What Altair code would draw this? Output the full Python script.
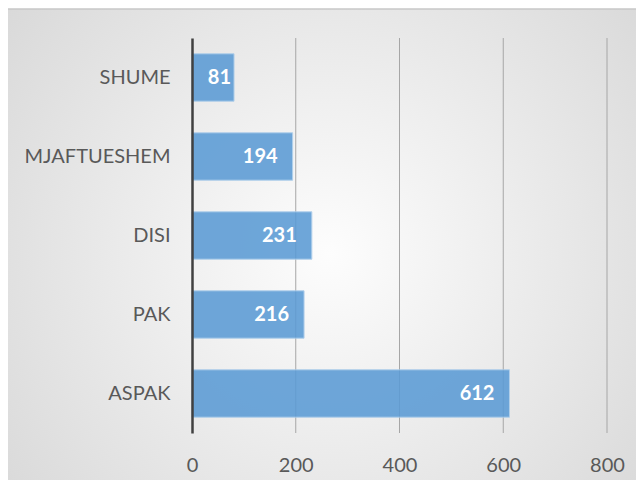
import altair as alt
import pandas as pd

categories = ["SHUME", "MJAFTUESHEM", "DISI", "PAK", "ASPAK"]
values = [81, 194, 231, 216, 612]
tick_values = [0, 200, 400, 600, 800]

df = pd.DataFrame({"cat": categories, "val": values})
grid_df = pd.DataFrame({"t": tick_values[1:]})
bg_df = pd.DataFrame({"a": [0]})

FONT = "Lato"
TXT = "#595959"
xscale = alt.Scale(domain=[0, 800])
x_axis = alt.Axis(values=tick_values, grid=False, ticks=False, domain=False,
                  title=None, labelFontSize=20, labelFont=FONT, labelFlush=False,
                  labelColor=TXT, labelPadding=22, zindex=1)
y_axis = alt.Axis(title=None, ticks=False, labelFontSize=20, labelFont=FONT,
                  labelColor=TXT, labelPadding=22, domainColor="#404040",
                  domainWidth=2.5, zindex=1)
yscale = alt.Scale(paddingInner=0.4, paddingOuter=0.2)

bg = alt.Chart(bg_df).mark_rect(
    fill=alt.Gradient(
        gradient="radial",
        x1=0.5, y1=0.5, r1=0, x2=0.5, y2=0.5, r2=0.75,
        stops=[alt.GradientStop(color="#fdfdfd", offset=0),
               alt.GradientStop(color="#d2d2d2", offset=1)],
    ),
    stroke="#c8c8c8", strokeWidth=1.5, clip=False,
).encode(
    x=alt.value(-186), x2=alt.value(460), y=alt.value(-29), y2=alt.value(460)
)

grid = alt.Chart(grid_df).mark_rule(color="#a6a6a6", strokeWidth=1).encode(
    x=alt.X("t:Q", scale=xscale, axis=x_axis)
)

bars = alt.Chart(df).mark_bar(
    color="#5b9bd5", opacity=0.88, stroke="#a9cbea", strokeWidth=1
).encode(
    x=alt.X("val:Q", scale=xscale, axis=x_axis),
    y=alt.Y("cat:N", sort=categories, scale=yscale, axis=y_axis),
)

text_style = dict(align="right", baseline="middle", color="white",
                  fontWeight="bold", fontSize=20, font=FONT)

labels = alt.Chart(df).transform_filter("datum.val >= 100").mark_text(
    dx=-15, **text_style
).encode(
    x=alt.X("val:Q", scale=xscale, axis=x_axis),
    y=alt.Y("cat:N", sort=categories, scale=yscale, axis=y_axis),
    text="val:Q",
)

labels_small = alt.Chart(df).transform_filter("datum.val < 100").mark_text(
    dx=-3, **text_style
).encode(
    x=alt.X("val:Q", scale=xscale, axis=x_axis),
    y=alt.Y("cat:N", sort=categories, scale=yscale, axis=y_axis),
    text="val:Q",
)

chart = alt.layer(bg, grid, bars, labels, labels_small).properties(
    width=415, height=395,
    padding={"left": 184, "top": 30, "right": 29, "bottom": 47},
    autosize="none",
).configure_view(stroke=None).configure(background="white")

chart.save("out.html", embed_options={"renderer": "svg", "actions": False})
